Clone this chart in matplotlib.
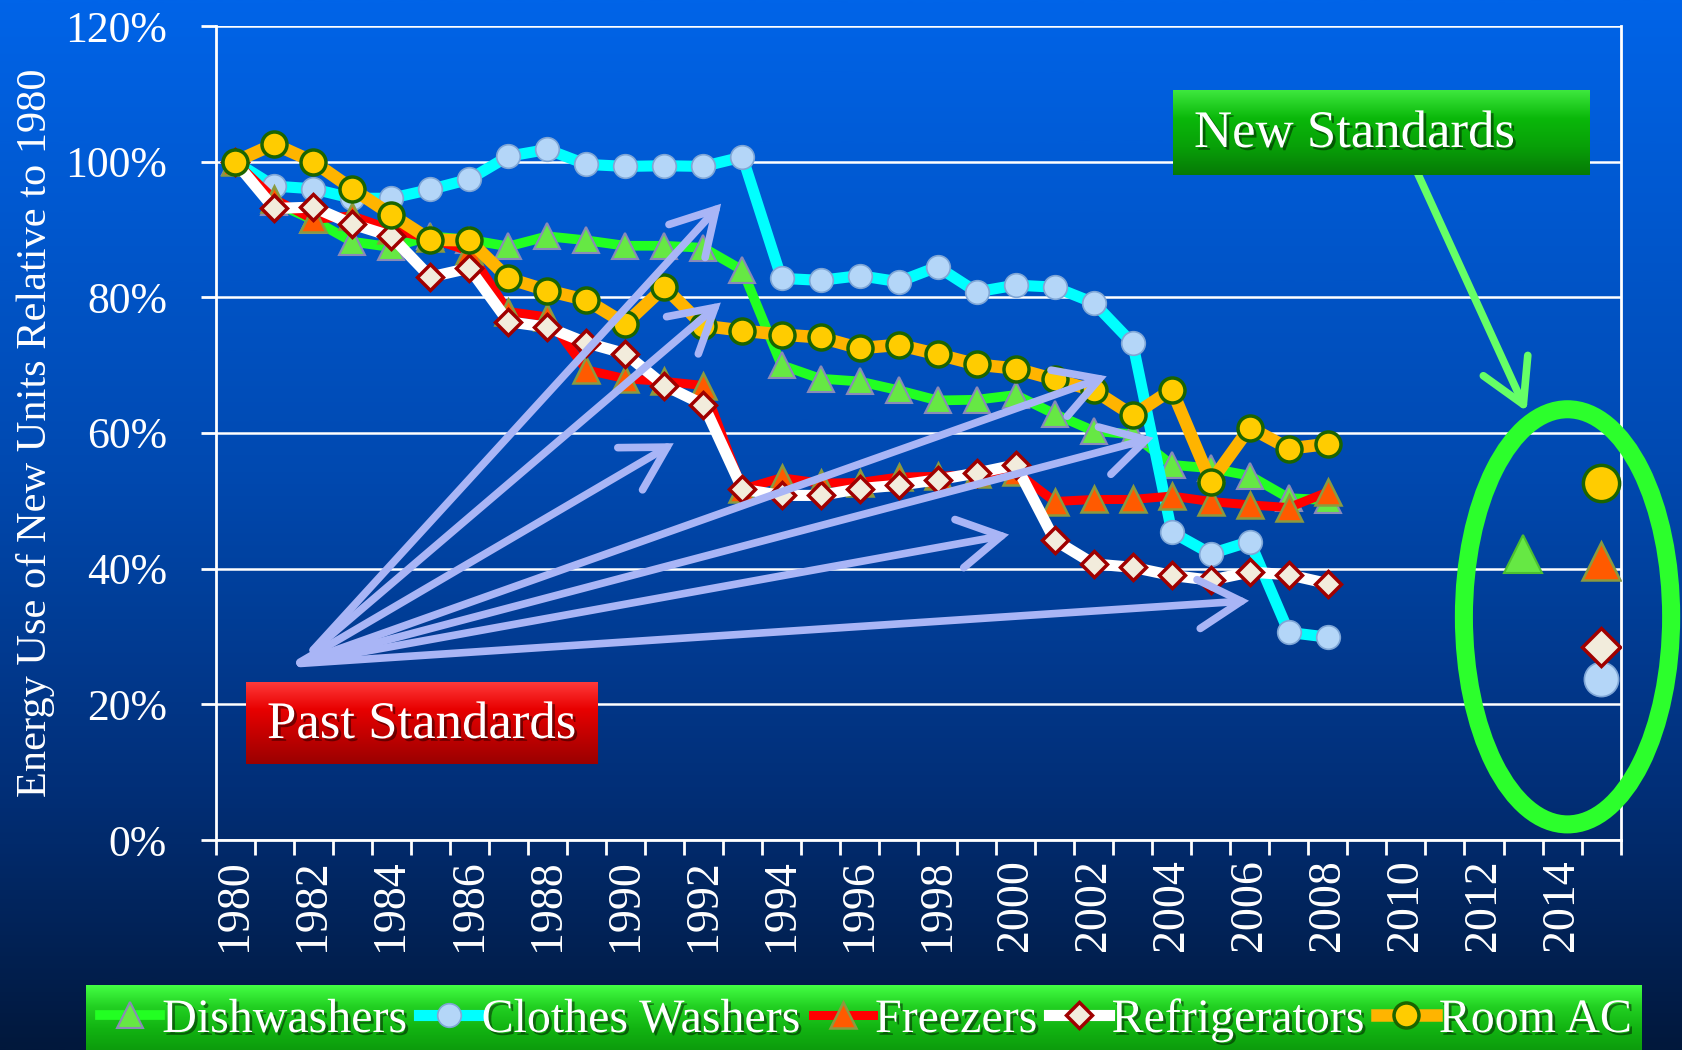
import numpy as np
import matplotlib
matplotlib.use("Agg")
import matplotlib.pyplot as plt
from matplotlib.colors import LinearSegmentedColormap
from matplotlib.patches import Ellipse, FancyArrowPatch
import matplotlib.patheffects as pe

plt.rcParams['font.family'] = ['Liberation Serif', 'DejaVu Serif']

# ----- data -----
years = list(range(1980, 2009))

dishwashers = [100, 94, 91.4, 88.2, 87.4, 89, 88.5, 87.5, 89, 88.4, 87.6, 87.6, 87.3, 84,
               70, 68, 67.6, 66.3, 64.8, 64.9, 65.6, 62.8, 60.3, 59.8, 55.3, 54.8, 53.7, 50.4, 50.1]
clothes_washers = [100, 96.4, 96, 94.6, 94.6, 95.9, 97.4, 100.8, 101.8, 99.6, 99.3, 99.4, 99.3, 100.7,
                   82.8, 82.5, 83.2, 82.3, 84.5, 80.8, 81.8, 81.5, 79.2, 73.2, 45.4, 42.2, 44, 30.6, 29.9]
freezers = [100, 94.5, 91.5, 92, 90, 88.7, 86.8, 77.9, 77.1, 69.3, 68, 67.6, 67, 51.7,
            53.4, 52.6, 52.7, 53.5, 53.6, 53.9, 54.3, 49.9, 50.2, 50.2, 50.7, 49.9, 49.4, 49, 51.3]
refrigerators = [100, 93.1, 93.3, 90.8, 89, 83, 84.3, 76.4, 75.6, 73.3, 71.7, 67, 64.2, 51.7,
                 50.8, 50.8, 51.8, 52.3, 53.1, 54.1, 55.3, 44.2, 40.7, 40.2, 39, 38.3, 39.5, 39.1, 37.8]
room_ac = [100, 102.6, 100, 96, 92.2, 88.5, 88.4, 82.8, 81, 79.6, 76.1, 81.5, 75.8, 75.1,
           74.5, 74.1, 72.5, 73, 71.6, 70.1, 69.5, 67.9, 66.3, 62.6, 66.4, 52.8, 60.8, 57.7, 58.4]

# new standards (single points)
new_year = {"Dishwashers": 2013, "Clothes Washers": 2015, "Freezers": 2015,
            "Refrigerators": 2015, "Room AC": 2015}
new_value = {"Dishwashers": 42.2, "Clothes Washers": 23.7, "Freezers": 41.1,
             "Refrigerators": 28.5, "Room AC": 52.6}

# "Past Standards" arrows: tails and heads (year, %)
arrow_tails = [(1981.95, 27.7), (1981.95, 27.7), (1981.6, 26.0), (1981.6, 26.0),
               (1981.6, 26.0), (1981.6, 26.0), (1981.6, 26.0)]
arrow_heads = [(1992.5, 94.1), (1992.5, 79.5), (1991.3, 58.7), (2002.4, 68.5),
               (2003.6, 59.4), (1999.9, 45.1), (2006.05, 35.3)]

W, H = 1683, 1050


def fx(px):
    return px / W


def fy(py):
    return 1 - py / H


def gradient_box(fig, left, top, right, bottom, colors, z):
    a = fig.add_axes([fx(left), fy(bottom), fx(right) - fx(left), fy(top) - fy(bottom)], zorder=z)
    cm = LinearSegmentedColormap.from_list("g", colors)
    a.imshow(np.linspace(0, 1, 256).reshape(-1, 1), aspect='auto', cmap=cm,
             extent=[0, 1, 0, 1], origin='upper')
    a.set_axis_off()
    return a


fig = plt.figure(figsize=(W / 100, H / 100), dpi=100)

# background gradient
bg = fig.add_axes([0, 0, 1, 1], zorder=-10)
bg_cmap = LinearSegmentedColormap.from_list(
    "bg", [(0, '#0064e8'), (0.45, '#0049b0'), (0.75, '#022f78'), (1.0, '#01183c')])
bg.imshow(np.linspace(0, 1, 512).reshape(-1, 1), aspect='auto', cmap=bg_cmap,
          extent=[0, 1, 0, 1], origin='upper')
bg.set_axis_off()

ax = fig.add_axes([fx(215.6), fy(840), fx(1620.6) - fx(215.6), fy(26) - fy(840)])
ax.set_facecolor('none')

# ----- series -----
styles = [
    ("Dishwashers", dishwashers, dict(color='#22ff22', lw=7, marker='^', ms=19,
                                       mfc='#66e844', mec='#8a8ab8', mew=1.5)),
    ("Clothes Washers", clothes_washers, dict(color='#00ffff', lw=8, marker='o', ms=17,
                                               mfc='#b4d6f8', mec='#7fa6d6', mew=1.2)),
    ("Freezers", freezers, dict(color='#ff0000', lw=6.5, marker='^', ms=19,
                                 mfc='#ff5a00', mec='#8a9a40', mew=1.8)),
    ("Refrigerators", refrigerators, dict(color='#ffffff', lw=8, marker='D', ms=13,
                                           mfc='#f2ecdc', mec='#a00000', mew=2.5)),
    ("Room AC", room_ac, dict(color='#ffb400', lw=9, marker='o', ms=18,
                               mfc='#ffcc00', mec='#1a6400', mew=2.5)),
]

handles = []
for i, (name, vals, st) in enumerate(styles):
    h, = ax.plot(years, vals, label=name, zorder=3 + i, **st)
    handles.append(h)
    big = dict(st)
    big['ms'] = st['ms'] * 1.45
    if name == "Dishwashers":
        big['mec'] = '#4cc030'
    ax.plot([new_year[name]], [new_value[name]], linestyle='none', zorder=3 + i,
            **{k: v for k, v in big.items() if k not in ('color', 'lw')})

# ----- axes formatting -----
ax.set_xlim(1979.5, 2015.5)
ax.set_ylim(0, 120)
ax.set_yticks(range(0, 121, 20))
ax.set_yticklabels([f"{v}%" for v in range(0, 121, 20)])
ax.set_xticks(np.arange(1979.5, 2016, 1))
ax.set_xticklabels([])
ax.set_xticks(range(1980, 2015, 2), minor=True)
ax.set_xticklabels([str(y) for y in range(1980, 2015, 2)], minor=True, rotation=90)
ax.tick_params(axis='x', which='major', length=11, width=2, color='white', direction='out')
ax.tick_params(axis='x', which='minor', length=0, pad=14, labelsize=33, labelcolor='white')
ax.tick_params(axis='y', length=11, width=2, color='white', direction='out', pad=24,
               labelsize=31.5, labelcolor='white')
ax.grid(True, axis='y', color='white', lw=1.8)
ax.set_axisbelow(True)
for s in ax.spines.values():
    s.set_color('white')
    s.set_linewidth(2)
ax.spines['top'].set_visible(False)

ax.set_ylabel("Energy Use of New Units Relative to 1980", fontsize=30.5, color='white')
ax.yaxis.set_label_coords(-0.114, 0.5)

# ----- annotations -----
for (x0, y0), (x1, y1) in zip(arrow_tails, arrow_heads):
    ar = FancyArrowPatch((x0, y0), (x1, y1), arrowstyle='->,head_length=1.4,head_width=0.8',
                         mutation_scale=22, color='#a9b5f6', lw=5.5, zorder=9,
                         capstyle='round', joinstyle='miter')
    ax.add_patch(ar)

ax.add_patch(FancyArrowPatch((2010.25, 98.9), (2013.12, 62.8),
                             arrowstyle='->,head_length=1.4,head_width=0.8',
                             mutation_scale=22, color='#66ff66', lw=5.5, zorder=9))

ax.add_patch(Ellipse((2014.14, 32.9), 5.31, 61.2, fill=False, ec='#2cff2c', lw=13,
                     zorder=10, clip_on=False))

shadow = [pe.SimplePatchShadow(offset=(2, -2), shadow_rgbFace='black', alpha=0.45), pe.Normal()]

# Past Standards box
gradient_box(fig, 246, 682, 598, 764, ['#ff3a3a', '#e80000', '#c00000', '#9a0000'], 20)
fig.text(fx(267), fy(725), "Past Standards", fontsize=38, color='white', ha='left',
         va='center', zorder=21, path_effects=shadow)

# New Standards box
gradient_box(fig, 1173, 90, 1590, 175, ['#3ee83e', '#0ab80a', '#08a008', '#067a06'], 20)
fig.text(fx(1194), fy(134), "New Standards", fontsize=38, color='white', ha='left',
         va='center', zorder=21, path_effects=shadow)

# legend strip
gradient_box(fig, 86, 985, 1642, 1050, ['#44ff44', '#22d022', '#12b412', '#0c9c0c'], 20)
leg = fig.legend(handles=handles, loc='center', bbox_to_anchor=(fx(866), fy(1020)), ncol=5,
                 frameon=False, fontsize=34.5, handlelength=1.25, handletextpad=0.05,
                 columnspacing=0.25, borderaxespad=0)
leg.set_zorder(30)
for t in leg.get_texts():
    t.set_color('white')
    t.set_path_effects(shadow)

fig.savefig("out.png", dpi=100)
